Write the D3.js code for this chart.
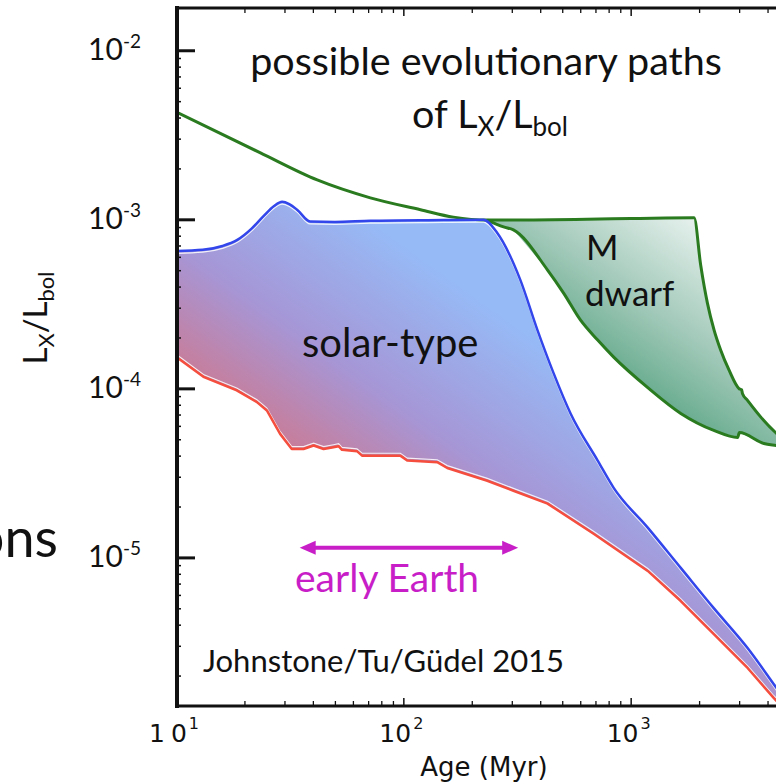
<!DOCTYPE html>
<html>
<head>
<meta charset="utf-8">
<script src="https://cdn.jsdelivr.net/npm/d3@7"></script>
<style>
  html, body { margin: 0; padding: 0; background: #fff; overflow: hidden; }
  svg { display: block; }
</style>
</head>
<body>
<svg id="chart" width="776" height="784"></svg>
<script>
// Ages in Myr, activity as L_X / L_bol

// fast-rotating solar-type star (upper edge of the solar band)
const fastRotatorTrack = [
  [10.1, 6.5e-4], [13.1, 6.6e-4], [16.0, 6.95e-4], [18.6, 7.55e-4], [21.5, 8.8e-4],
  [24.2, 1.04e-3], [27.0, 1.2e-3], [29.3, 1.27e-3], [31.5, 1.23e-3], [34.1, 1.14e-3],
  [38.9, 9.7e-4], [50, 9.65e-4], [71.6, 9.8e-4], [150, 9.9e-4], [225, 9.95e-4],
  [259, 8.3e-4], [327, 4.38e-4], [389, 2.21e-4], [458, 1.23e-4], [544, 7.1e-5],
  [716, 3.74e-5], [842, 2.58e-5], [1189, 1.5e-5], [1661, 8.67e-6], [2321, 5.01e-6],
  [3275, 2.9e-6], [4394, 1.68e-6], [5610, 1.07e-6]
];

// slow-rotating solar-type star (lower edge of the solar band)
const slowRotatorTrack = [
  [10.07, 1.53e-4], [13.2, 1.17e-4], [18.5, 9.73e-5], [22.7, 8.29e-5], [25.1, 7.4e-5],
  [28.7, 5.38e-5], [32.3, 4.38e-5], [36.4, 4.38e-5], [40.3, 4.59e-5], [44.6, 4.38e-5],
  [49.3, 4.49e-5], [51.9, 4.55e-5], [53.7, 4.33e-5], [62.5, 4.25e-5], [65.8, 4.0e-5],
  [97.0, 4.0e-5], [104, 3.74e-5], [141, 3.66e-5], [156, 3.38e-5], [234, 2.84e-5],
  [305, 2.48e-5], [431, 2.08e-5], [687, 1.38e-5], [1189, 8.32e-6], [1661, 5.52e-6],
  [2321, 3.52e-6], [3275, 2.21e-6], [4266, 1.47e-6], [5610, 1.0e-6]
];

// saturation limit and upper M dwarf track
const saturationTrack = [
  [10.1, 4.29e-3], [23.4, 2.48e-3], [41.8, 1.71e-3], [71.6, 1.34e-3], [119, 1.14e-3],
  [166, 1.03e-3], [234, 9.9e-4], [1000, 1.01e-3], [1901, 1.02e-3], [2032, 5.37e-4],
  [2177, 3.18e-4], [2328, 2.21e-4], [2490, 1.68e-4], [2710, 1.28e-4], [3000, 9.96e-5],
  [3074, 9.82e-5], [3105, 9.29e-5], [3266, 8.49e-5], [3738, 6.76e-5], [4395, 5.39e-5],
  [5333, 4.4e-5]
];

// lower M dwarf track
const mDwarfLowerTrack = [
  [234, 9.9e-4], [276, 9.02e-4], [305, 8.66e-4], [431, 5.01e-4], [507, 3.66e-4],
  [602, 2.53e-4], [716, 1.93e-4], [842, 1.53e-4], [1189, 1.01e-4], [1661, 7.11e-5],
  [2321, 5.64e-5], [2957, 5.12e-5], [3006, 5.48e-5], [3855, 4.72e-5], [4394, 4.59e-5],
  [5333, 4.4e-5]
];

const xTickValues = [10, 100, 1000];
const xTickExponents = ["1", "2", "3"];
const yTickValues = [1e-2, 1e-3, 1e-4, 1e-5];
const yTickExponents = ["-2", "-3", "-4", "-5"];

const earlyEarthAges = [35, 320];
const earlyEarthLevel = 1.14e-5;

// ---------------------------------------------------------------
const svg = d3.select("#chart");
const plotLeft = 177, plotRight = 858, plotTop = 8, plotBottom = 706;

const x = d3.scaleLog().domain([10, 1e4]).range([plotLeft - 1, plotRight]);
const y = d3.scaleLog().domain([Math.pow(10, -5.879), Math.pow(10, -1.750)]).range([plotBottom, plotTop]);

const defs = svg.append("defs");
defs.append("clipPath").attr("id", "plotClip")
  .append("rect").attr("x", plotLeft).attr("y", plotTop)
  .attr("width", plotRight - plotLeft).attr("height", plotBottom - plotTop);

const solarGrad = defs.append("linearGradient").attr("id", "solarGrad")
  .attr("gradientUnits", "userSpaceOnUse")
  .attr("x1", 255).attr("y1", 465).attr("x2", 410).attr("y2", 250);
solarGrad.append("stop").attr("offset", 0).attr("stop-color", "rgb(212,116,132)");
solarGrad.append("stop").attr("offset", 0.5).attr("stop-color", "rgb(166,150,214)");
solarGrad.append("stop").attr("offset", 1).attr("stop-color", "rgb(150,186,246)");

const mGrad = defs.append("linearGradient").attr("id", "mGrad")
  .attr("gradientUnits", "userSpaceOnUse")
  .attr("x1", 690).attr("y1", 215).attr("x2", 560).attr("y2", 400);
mGrad.append("stop").attr("offset", 0).attr("stop-color", "rgb(230,241,237)");
mGrad.append("stop").attr("offset", 0.45).attr("stop-color", "rgb(160,200,184)");
mGrad.append("stop").attr("offset", 1).attr("stop-color", "rgb(60,150,110)");

const smooth = d3.line().x(d => x(d[0])).y(d => y(d[1])).curve(d3.curveMonotoneX);
const straight = d3.line().x(d => x(d[0])).y(d => y(d[1]));

const plot = svg.append("g").attr("clip-path", "url(#plotClip)");

// solar-type band
const solarPath = smooth(fastRotatorTrack) + "L" +
  straight(slowRotatorTrack.slice().reverse()).slice(1) + "Z";
plot.append("path").attr("d", solarPath).attr("fill", "url(#solarGrad)");

// M dwarf band
const mTop = saturationTrack.filter(d => d[0] >= 234);
const mPath = smooth(mTop) + "L" + straight(mDwarfLowerTrack.slice().reverse()).slice(1) + "Z";
plot.append("path").attr("d", mPath).attr("fill", "url(#mGrad)");

// edge highlights
plot.append("path").attr("d", smooth(fastRotatorTrack))
  .attr("transform", "translate(0,2.4)")
  .attr("fill", "none").attr("stroke", "#fff").attr("stroke-width", 1.2).attr("opacity", 0.85);
plot.append("path").attr("d", straight(slowRotatorTrack))
  .attr("transform", "translate(0,-2.4)")
  .attr("fill", "none").attr("stroke", "#fff").attr("stroke-width", 1.2).attr("opacity", 0.85);

// tracks
plot.append("path").attr("d", smooth(saturationTrack))
  .attr("fill", "none").attr("stroke", "rgb(42,122,32)").attr("stroke-width", 3)
  .attr("stroke-linejoin", "round");
plot.append("path").attr("d", smooth(mDwarfLowerTrack))
  .attr("fill", "none").attr("stroke", "rgb(42,122,32)").attr("stroke-width", 3)
  .attr("stroke-linejoin", "round");
plot.append("path").attr("d", smooth(fastRotatorTrack))
  .attr("fill", "none").attr("stroke", "rgb(50,70,235)").attr("stroke-width", 2.5);
plot.append("path").attr("d", straight(slowRotatorTrack))
  .attr("fill", "none").attr("stroke", "rgb(245,78,62)").attr("stroke-width", 2.5)
  .attr("stroke-linejoin", "round");

// ---------------------------------------------------------------
// axes
const minorX = [];
[10, 100, 1000].forEach(d => { for (let k = 2; k <= 9; k++) minorX.push(d * k); });
const minorY = [];
[1e-6, 1e-5, 1e-4, 1e-3].forEach(d => {
  for (let k = 2; k <= 9; k++) {
    const v = d * k;
    if (v > y.domain()[0] && v < y.domain()[1]) minorY.push(v);
  }
});

function clean(g) { g.select(".domain").remove(); g.selectAll("line").attr("stroke", "#111"); }

svg.append("g").attr("transform", `translate(0,${plotBottom})`)
  .call(d3.axisBottom(x).tickValues(xTickValues).tickSize(-8).tickFormat(""))
  .call(clean).selectAll("line").attr("stroke-width", 1.5);
svg.append("g").attr("transform", `translate(0,${plotBottom})`)
  .call(d3.axisBottom(x).tickValues(minorX).tickSize(-5).tickFormat(""))
  .call(clean).selectAll("line").attr("stroke-width", 1.3);
svg.append("g").attr("transform", `translate(0,${plotTop})`)
  .call(d3.axisTop(x).tickValues(xTickValues).tickSize(-8).tickFormat(""))
  .call(clean).selectAll("line").attr("stroke-width", 1.5);
svg.append("g").attr("transform", `translate(0,${plotTop})`)
  .call(d3.axisTop(x).tickValues(minorX).tickSize(-5).tickFormat(""))
  .call(clean).selectAll("line").attr("stroke-width", 1.3);
svg.append("g").attr("transform", `translate(${plotLeft},0)`)
  .call(d3.axisLeft(y).tickValues(yTickValues).tickSize(-18).tickFormat(""))
  .call(clean).selectAll("line").attr("stroke-width", 3);
svg.append("g").attr("transform", `translate(${plotLeft},0)`)
  .call(d3.axisLeft(y).tickValues(minorY).tickSize(-4).tickFormat(""))
  .call(clean).selectAll("line").attr("stroke-width", 1.5);

// frame
svg.append("line").attr("x1", plotLeft).attr("x2", plotLeft).attr("y1", plotTop - 2).attr("y2", plotBottom + 2)
  .attr("stroke", "#111").attr("stroke-width", 4);
svg.append("line").attr("x1", plotLeft - 2).attr("x2", 776).attr("y1", plotBottom).attr("y2", plotBottom)
  .attr("stroke", "#111").attr("stroke-width", 3);
svg.append("line").attr("x1", plotLeft - 2).attr("x2", 776).attr("y1", plotTop).attr("y2", plotTop)
  .attr("stroke", "#111").attr("stroke-width", 3);

// y tick labels
const yLab = svg.append("g").attr("font-family", "Lato, 'Open Sans', sans-serif").attr("fill", "#111");
yTickValues.forEach((v, i) => {
  const t = yLab.append("text").attr("x", 141).attr("y", y(v) + 10).attr("text-anchor", "end")
    .attr("font-size", 30);
  t.append("tspan").text("10");
  t.append("tspan").attr("font-size", 19).attr("dy", -12).text(yTickExponents[i]);
});

// x tick labels
const xLab = svg.append("g").attr("font-family", "'DejaVu Sans', sans-serif").attr("fill", "#111");
xTickValues.forEach((v, i) => {
  const t = xLab.append("text").attr("x", x(v) - 2).attr("y", 742).attr("text-anchor", "middle")
    .attr("font-size", 25);
  if (i === 0) {
    t.append("tspan").text("1");
    t.append("tspan").attr("dx", 6).text("0");
  } else {
    t.append("tspan").text("10");
  }
  t.append("tspan").attr("font-size", 16).attr("dy", -13).attr("dx", 2).text(xTickExponents[i]);
});

svg.append("text").attr("x", 484).attr("y", 776).attr("text-anchor", "middle")
  .attr("font-family", "'DejaVu Sans', sans-serif").attr("font-size", 26).attr("fill", "#111")
  .text("Age (Myr)");

// y axis title
const yTitle = svg.append("text")
  .attr("transform", "translate(47,318) rotate(-90)")
  .attr("text-anchor", "middle")
  .attr("font-family", "Lato, 'Open Sans', sans-serif").attr("font-size", 33).attr("fill", "#111");
yTitle.append("tspan").text("L");
yTitle.append("tspan").attr("font-size", 22).attr("dy", 7).text("X");
yTitle.append("tspan").attr("dy", -7).text("/L");
yTitle.append("tspan").attr("font-size", 22).attr("dy", 7).text("bol");

// ---------------------------------------------------------------
// annotations
const ann = svg.append("g").attr("font-family", "Lato, 'Open Sans', sans-serif").attr("fill", "#111");

ann.append("text").attr("x", 486).attr("y", 75).attr("text-anchor", "middle").attr("font-size", 39.5)
  .text("possible evolutionary paths");
const sub = ann.append("text").attr("x", 490).attr("y", 128).attr("text-anchor", "middle").attr("font-size", 39.5);
sub.append("tspan").text("of L");
sub.append("tspan").attr("font-size", 26).attr("dy", 8).text("X");
sub.append("tspan").attr("dy", -8).text("/L");
sub.append("tspan").attr("font-size", 26).attr("dy", 8).text("bol");

ann.append("text").attr("x", 302).attr("y", 357).attr("font-size", 40).text("solar-type");
ann.append("text").attr("x", 586).attr("y", 260).attr("font-size", 35).text("M");
ann.append("text").attr("x", 585).attr("y", 306).attr("font-size", 35).text("dwarf");

ann.append("text").attr("x", 203).attr("y", 672).attr("font-size", 31).text("Johnstone/Tu/Güdel 2015");

ann.append("text").attr("x", 58).attr("y", 557).attr("text-anchor", "end").attr("font-size", 54).text("ons");

// early Earth interval
const magenta = "rgb(200,30,200)";
const ax0 = x(earlyEarthAges[0]), ax1 = x(earlyEarthAges[1]), ay = y(earlyEarthLevel);
const arrow = svg.append("g");
arrow.append("line").attr("x1", ax0 + 10).attr("x2", ax1 - 10).attr("y1", ay).attr("y2", ay)
  .attr("stroke", magenta).attr("stroke-width", 4);
arrow.append("path").attr("d", `M${ax0},${ay}L${ax0 + 16},${ay - 7}L${ax0 + 16},${ay + 7}Z`).attr("fill", magenta);
arrow.append("path").attr("d", `M${ax1},${ay}L${ax1 - 16},${ay - 7}L${ax1 - 16},${ay + 7}Z`).attr("fill", magenta);
svg.append("text").attr("x", 295).attr("y", 592).attr("font-family", "Lato, 'Open Sans', sans-serif")
  .attr("font-size", 39).attr("fill", magenta).text("early Earth");
</script>
</body>
</html>
